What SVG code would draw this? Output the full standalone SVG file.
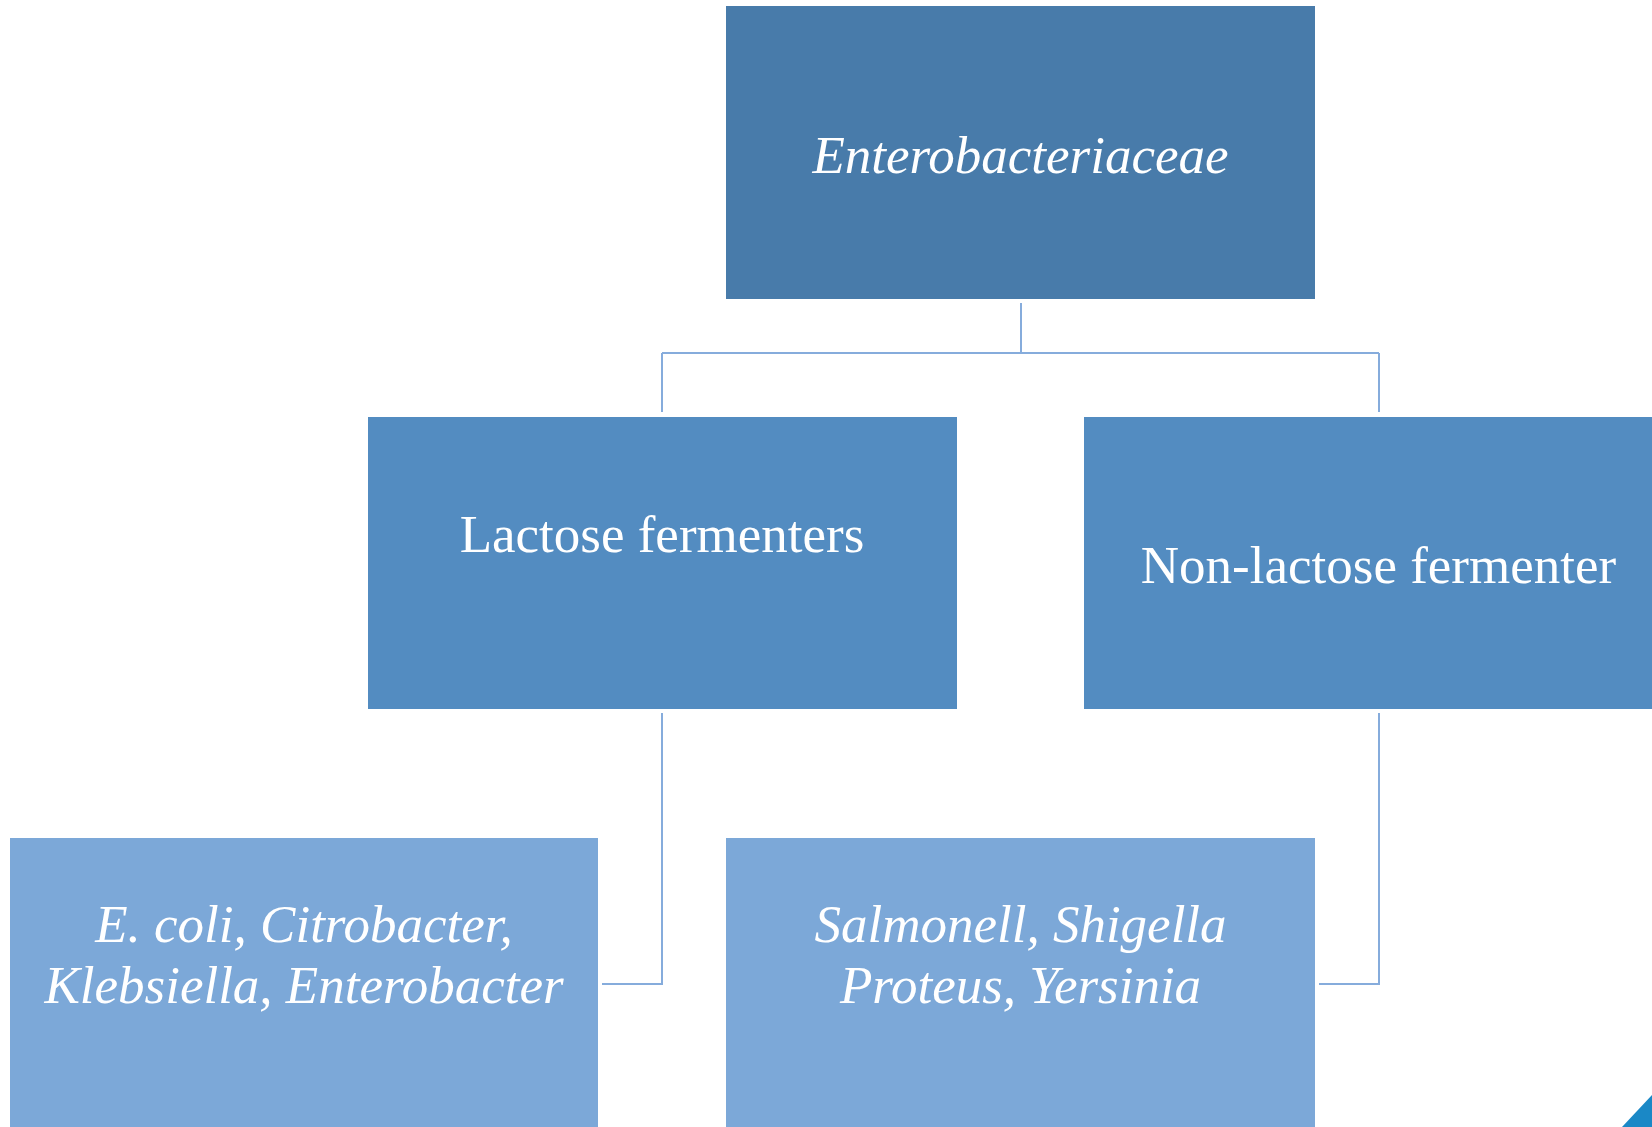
<svg xmlns="http://www.w3.org/2000/svg" width="1652" height="1127" viewBox="0 0 1652 1127">
<style>
.lbl{font-family:"Liberation Serif","Times New Roman",serif;font-size:53px;fill:#ffffff;text-anchor:middle}
.it{font-style:italic}
.conn{fill:none;stroke:#86acdc;stroke-width:2}
</style>
<rect width="1652" height="1127" fill="#ffffff"/>
<g id="connectors">
<path class="conn" d="M1021,303 V353 M662,353 H1379 M662,353 V412 M1379,353 V412"/>
<path class="conn" d="M662,713 V984 H602"/>
<path class="conn" d="M1379,713 V984 H1319"/>
</g>
<g id="n-enterobacteriaceae">
<rect x="726" y="6" width="589" height="293" fill="#487baa"/>
<text class="lbl it" x="1020.5" y="173">Enterobacteriaceae</text>
</g>
<g id="n-lactose">
<rect x="368" y="417" width="589" height="292" fill="#538cc1"/>
<text class="lbl" x="662" y="552">Lactose fermenters</text>
</g>
<g id="n-nonlactose">
<rect x="1084" y="417" width="589" height="292" fill="#538cc1"/>
<text class="lbl" x="1378.5" y="583">Non-lactose fermenter</text>
</g>
<g id="n-lf-genera">
<rect x="10" y="838" width="588" height="292" fill="#7ca8d8"/>
<text class="lbl it" x="304" y="942">E. coli, Citrobacter,</text>
<text class="lbl it" x="304" y="1003">Klebsiella, Enterobacter</text>
</g>
<g id="n-nlf-genera">
<rect x="726" y="838" width="589" height="292" fill="#7ca8d8"/>
<text class="lbl it" x="1020.5" y="942">Salmonell, Shigella</text>
<text class="lbl it" x="1020.5" y="1003">Proteus, Yersinia</text>
</g>
<polygon points="1622,1127 1652,1095 1652,1127" fill="#1a88c6"/>
</svg>
